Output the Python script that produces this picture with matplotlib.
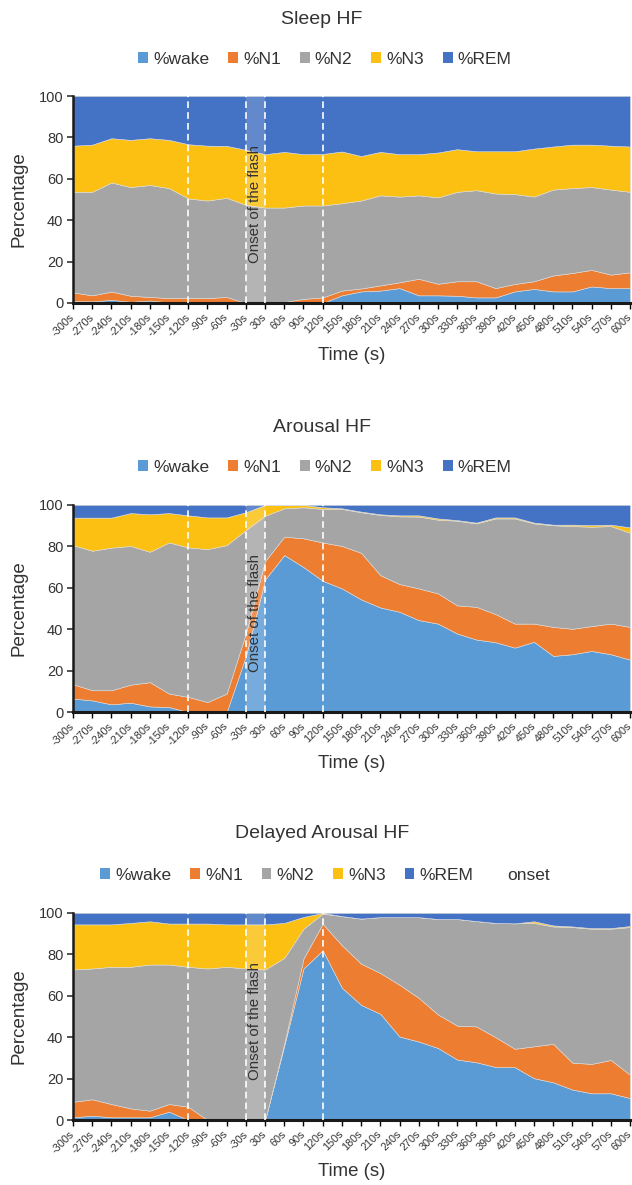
import matplotlib
matplotlib.use("Agg")
import matplotlib.pyplot as plt
from matplotlib.patches import Patch

plt.rcParams['font.family'] = ['Liberation Sans', 'DejaVu Sans']

time_labels = ["-300s", "-270s", "-240s", "-210s", "-180s", "-150s", "-120s", "-90s", "-60s", "-30s",
               "30s", "60s", "90s", "120s", "150s", "180s", "210s", "240s", "270s", "300s",
               "330s", "360s", "390s", "420s", "450s", "480s", "510s", "540s", "570s", "600s"]
series_names = ["%wake", "%N1", "%N2", "%N3", "%REM"]
colors = ["#5B9BD5", "#ED7D31", "#A5A5A5", "#FBC012", "#4472C4"]

# Sleep HF
sleep_wake = [1.0, 0.8, 1.5, 0.6, 1.2, 0.3, 0, 0, 0, 0, 0, 0, 0, 0, 3.7, 5.6, 6.0, 7.2, 3.7, 3.7,
              3.5, 2.7, 2.7, 5.6, 6.8, 5.6, 5.6, 8.0, 7.2, 7.2]
sleep_n1 = [4.1, 2.9, 4.0, 2.9, 1.7, 2.1, 2.4, 2.4, 2.9, 0, 0, 0.5, 2.0, 2.7, 2.3, 1.4, 2.5, 2.8, 8.0, 5.6,
            7.0, 7.8, 4.5, 3.6, 3.7, 7.7, 8.9, 8.0, 6.5, 7.6]
sleep_n2 = [48.6, 50.0, 52.7, 52.5, 54.1, 53.1, 48.1, 47.1, 47.9, 47.4, 46.1, 45.6, 45.1, 44.4, 42.2, 42.5,
            43.5, 41.4, 40.3, 41.7, 43.2, 44.0, 45.7, 43.4, 40.9, 41.5, 41.0, 40.0, 41.1, 38.9]
sleep_n3 = [22.3, 22.8, 21.4, 22.8, 22.6, 23.3, 26.2, 26.5, 25.1, 26.6, 25.8, 26.9, 24.8, 24.9, 25.0, 21.5,
            21.0, 20.5, 19.9, 21.7, 20.6, 18.8, 20.4, 20.7, 23.2, 20.8, 21.0, 20.5, 21.2, 21.9]
sleep_rem = [24.0, 23.5, 20.4, 21.2, 20.4, 21.2, 23.3, 24.0, 24.1, 26.0, 28.1, 27.0, 28.1, 28.0, 26.8, 29.0,
             27.0, 28.1, 28.1, 27.3, 25.7, 26.7, 26.7, 26.7, 25.4, 24.4, 23.5, 23.5, 24.0, 24.4]

# Arousal HF
arousal_wake = [6.5, 5.6, 3.7, 4.5, 2.7, 2.4, 0, 0, 0, 27.0, 64.0, 75.8, 70.0, 63.4, 59.7, 54.4, 50.5, 48.4,
                44.4, 42.7, 37.9, 35.0, 33.7, 31.1, 33.9, 27.1, 27.9, 29.5, 27.9, 25.3]
arousal_n1 = [6.9, 4.9, 6.8, 8.7, 11.7, 6.5, 7.3, 4.8, 8.9, 11.0, 8.9, 8.9, 13.9, 18.5, 20.5, 22.5, 15.6,
              13.4, 15.3, 14.6, 13.6, 15.8, 13.6, 11.6, 8.8, 14.0, 12.3, 12.0, 14.8, 15.8]
arousal_n2 = [67.2, 67.4, 68.9, 67.0, 63.0, 73.0, 72.2, 73.9, 71.7, 49.9, 21.9, 13.7, 15.0, 16.2, 17.9, 19.6,
              29.1, 32.7, 34.7, 35.6, 40.9, 40.3, 46.2, 50.8, 48.4, 49.1, 49.6, 48.0, 47.1, 45.5]
arousal_n3 = [13.3, 16.0, 14.5, 15.9, 18.1, 14.2, 15.5, 15.3, 13.4, 8.6, 5.2, 1.6, 1.1, 0.8, 0.3, 0.3, 0.3,
              0.5, 0.6, 0.6, 0.3, 0.4, 0.5, 0.5, 0.4, 0.3, 0.7, 0.8, 0.7, 2.6]
arousal_rem = [6.1, 6.1, 6.1, 3.9, 4.5, 3.9, 5.0, 6.0, 6.0, 3.5, 0, 0, 0, 1.1, 1.6, 3.2, 4.5, 5.0, 5.0, 6.5,
               7.3, 8.5, 6.0, 6.0, 8.5, 9.5, 9.5, 9.7, 9.5, 10.8]

# Delayed Arousal HF
delayed_wake = [1.3, 2.1, 1.3, 1.3, 1.3, 4.0, 0, 0, 0, 0, 0, 36.0, 73.2, 82.0, 63.9, 55.6, 51.3, 40.3, 37.9,
                34.8, 29.2, 27.9, 25.6, 25.5, 20.2, 18.2, 14.7, 12.9, 12.9, 10.6]
delayed_n1 = [7.5, 7.9, 6.4, 4.3, 3.2, 3.7, 6.4, 0, 0, 0, 0, 1.0, 4.8, 12.8, 20.5, 19.9, 19.7, 25.0, 21.1,
              16.2, 16.4, 17.3, 14.4, 8.9, 15.4, 18.6, 13.0, 14.2, 16.1, 11.3]
delayed_n2 = [63.9, 63.2, 66.3, 68.4, 70.6, 67.4, 67.6, 73.2, 74.0, 73.2, 72.7, 41.3, 14.4, 4.9, 14.1, 21.8,
              27.0, 32.7, 39.0, 46.1, 51.5, 50.9, 55.2, 60.6, 59.6, 56.7, 65.5, 65.3, 63.4, 71.3]
delayed_n3 = [21.8, 21.3, 20.5, 21.2, 20.9, 19.8, 20.9, 21.7, 20.5, 21.3, 21.8, 16.9, 5.7, 0.3, 0, 0, 0, 0,
              0, 0, 0, 0, 0, 0, 0.8, 0.5, 0.3, 0.3, 0.3, 0.5]
delayed_rem = [5.5, 5.5, 5.5, 4.8, 4.0, 5.1, 5.1, 5.1, 5.5, 5.5, 5.5, 4.8, 1.9, 0, 1.5, 2.7, 2.0, 2.0, 2.0,
               2.9, 2.9, 3.9, 4.8, 5.0, 4.0, 6.0, 6.5, 7.3, 7.3, 6.3]

dashed_at = ["-120s", "-30s", "30s", "120s"]
onset_span = ["-30s", "30s"]

W, H = 632, 1185
fig = plt.figure(figsize=(W / 100, H / 100), dpi=100)

panels = [
    ("Sleep HF", [sleep_wake, sleep_n1, sleep_n2, sleep_n3, sleep_rem], False, 19, 59, 96),
    ("Arousal HF", [arousal_wake, arousal_n1, arousal_n2, arousal_n3, arousal_rem], False, 427, 467, 505),
    ("Delayed Arousal HF", [delayed_wake, delayed_n1, delayed_n2, delayed_n3, delayed_rem], True, 833, 875, 913),
]

txt = "#333333"
x = list(range(len(time_labels)))
for title, data, onset_entry, ty, ly, top in panels:
    ax_l, ax_r, ax_h = 73, 630, 207
    ax = fig.add_axes([ax_l / W, 1 - (top + ax_h) / H, (ax_r - ax_l) / W, ax_h / H])
    ax.axhline(100, color="#d9d9d9", lw=0.8, zorder=0)
    ax.stackplot(x, *data, colors=colors, linewidth=0.4, edgecolor="#dddddd", zorder=1)
    i0, i1 = time_labels.index(onset_span[0]), time_labels.index(onset_span[1])
    ax.axvspan(i0, i1, ymin=0, ymax=1, color="white", alpha=0.17, lw=0, zorder=2)
    for lab in dashed_at:
        ax.axvline(time_labels.index(lab), color="white", ls=(0, (4, 2.5)), lw=1.2, zorder=3)
    ax.text((i0 + i1) / 2, 48, "Onset of the flash", rotation=90, ha="center", va="center",
            fontsize=10.8, color=txt, zorder=4)
    ax.set_xlim(0, len(x) - 1)
    ax.set_ylim(0, 100)
    ax.set_yticks([0, 20, 40, 60, 80, 100])
    ax.set_xticks(x)
    ax.set_xticklabels(time_labels, rotation=45, ha="right", va="center", rotation_mode="anchor",
                       fontsize=7.8, color=txt)
    ax.tick_params(axis="y", labelsize=10.5, colors=txt, length=4, width=1.2, direction="out", pad=3)
    ax.tick_params(axis="x", length=4, width=1.0, direction="out", pad=5)
    for lbl in ax.get_yticklabels():
        lbl.set_color(txt)
    for s in ["top", "right"]:
        ax.spines[s].set_visible(False)
    ax.spines["left"].set_linewidth(1.8)
    ax.spines["bottom"].set_linewidth(2.2)
    ax.spines["left"].set_color("#1a1a1a")
    ax.spines["bottom"].set_color("#1a1a1a")
    fig.text(322 / W, 1 - ty / H, title, ha="center", va="center", fontsize=14, color=txt)
    handles = [Patch(facecolor=c, edgecolor="none") for c in colors]
    labels = list(series_names)
    if onset_entry:
        handles.append(Patch(facecolor="none", edgecolor="none"))
        labels.append("onset")
    fig.legend(handles, labels, loc="center", bbox_to_anchor=(325 / W, 1 - ly / H), ncol=len(labels),
               frameon=False, fontsize=12.5, handlelength=0.55, handleheight=0.55, handletextpad=0.3,
               columnspacing=1.1, labelcolor=txt)
    fig.text(19 / W, 1 - (top + ax_h / 2) / H, "Percentage", rotation=90, ha="center", va="center",
             fontsize=13.5, color=txt)
    fig.text(352 / W, 1 - (top + 259) / H, "Time (s)", ha="center", va="center", fontsize=13.4, color=txt)

fig.savefig("out.png", dpi=100)
